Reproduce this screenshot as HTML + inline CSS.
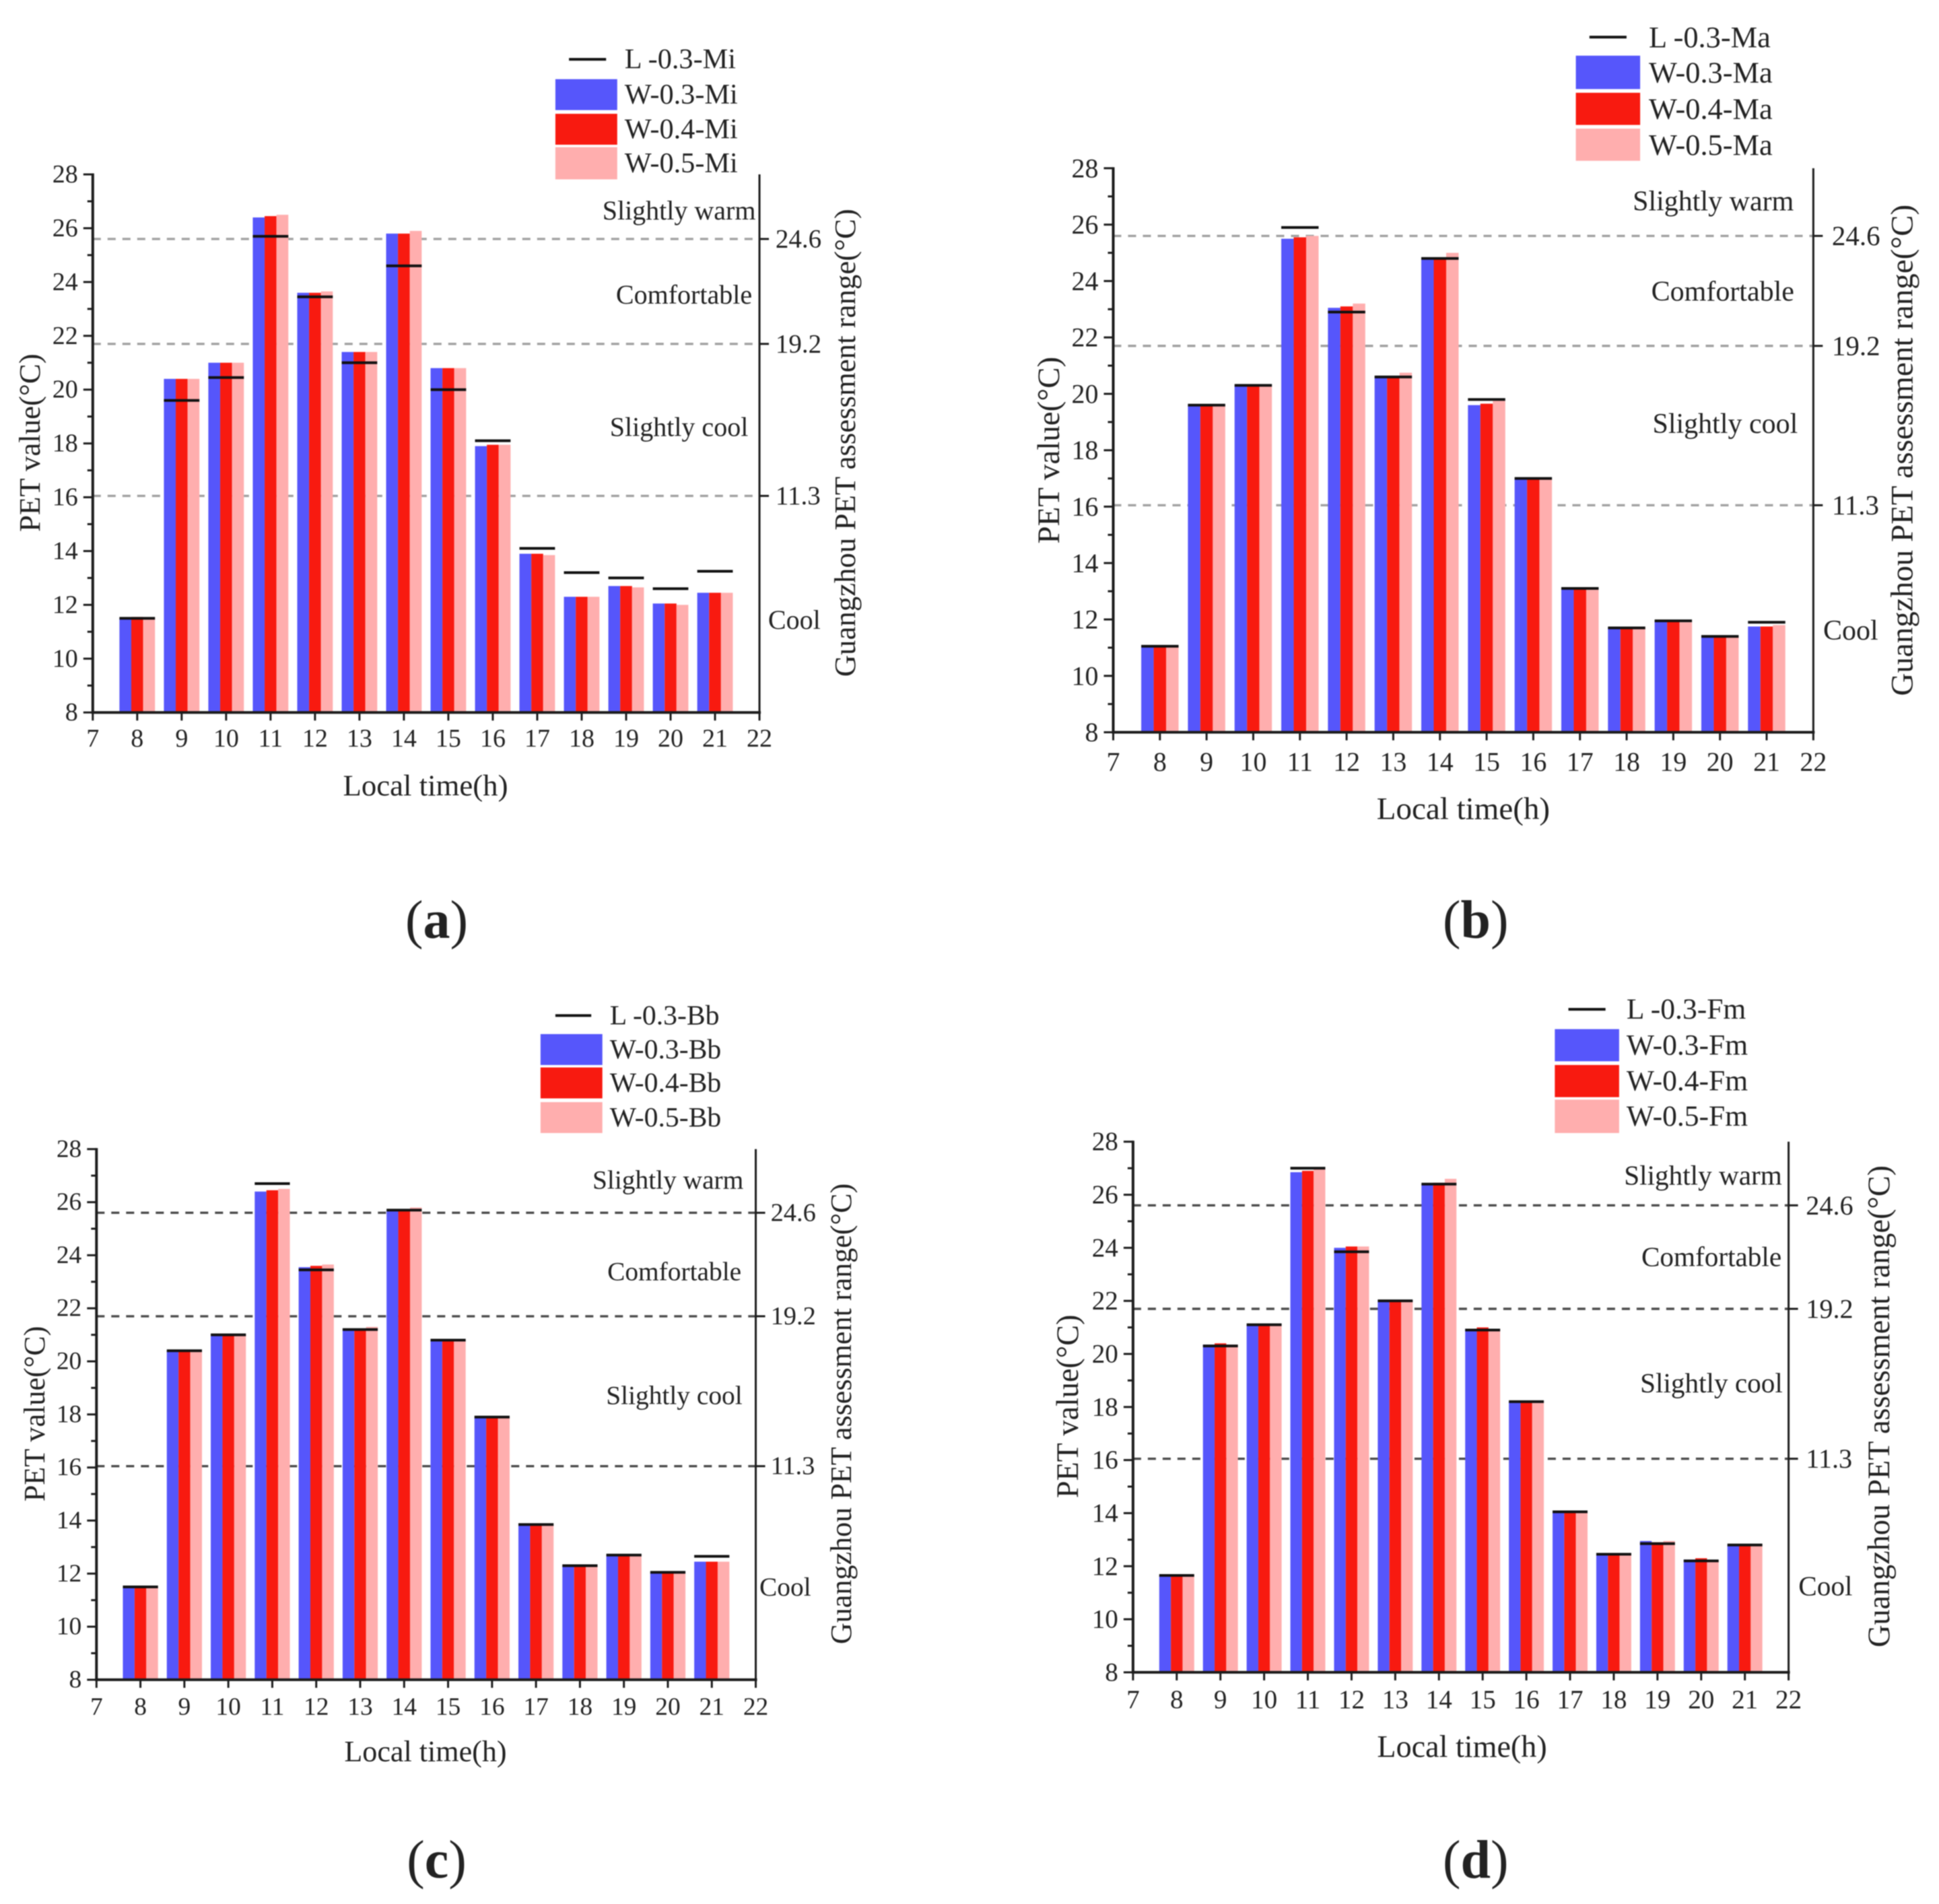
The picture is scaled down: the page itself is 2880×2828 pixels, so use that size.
<!DOCTYPE html>
<html lang="en">
<head>
<meta charset="utf-8">
<title>PET value by local time</title>
<style>
html,body{margin:0;padding:0;background:#fff;}
#figure{display:block;width:2880px;height:2828px;filter:blur(0.9px);}
text{font-family:"Liberation Serif",serif;fill:#222;}
</style>
</head>
<body>
<svg id="figure" xmlns="http://www.w3.org/2000/svg" width="2880" height="2828" viewBox="0 0 2880 2828"></svg>
<script>
// ---- data ----
const hours = [8,9,10,11,12,13,14,15,16,17,18,19,20,21];
const xTickLabels = [7,8,9,10,11,12,13,14,15,16,17,18,19,20,21,22];
const yTickLabels = [8,10,12,14,16,18,20,22,24,26,28];
const yMinorTicks = [9,11,13,15,17,19,21,23,25,27];
const thresholdValues = [25.6,21.7,16.05];
const thresholdLabels = ['24.6','19.2','11.3'];

const miW3 = [11.5,20.4,21.0,26.4,23.6,21.4,25.8,20.8,17.9,13.9,12.3,12.7,12.05,12.45];
const miW4 = [11.55,20.4,21.0,26.45,23.6,21.4,25.8,20.8,17.95,13.9,12.3,12.7,12.05,12.45];
const miW5 = [11.5,20.4,21.0,26.5,23.65,21.4,25.9,20.8,17.95,13.85,12.3,12.65,12.0,12.45];
const miL3 = [11.5,19.6,20.45,25.7,23.45,21.0,24.6,20.0,18.1,14.1,13.2,13.0,12.6,13.25];

const maW3 = [11.05,19.6,20.3,25.5,23.05,20.6,24.8,19.6,17.0,13.1,11.7,11.95,11.4,11.75];
const maW4 = [11.05,19.6,20.3,25.55,23.1,20.6,24.8,19.65,17.0,13.1,11.7,11.95,11.4,11.75];
const maW5 = [11.05,19.6,20.3,25.6,23.2,20.75,25.0,19.75,17.0,13.05,11.7,11.9,11.4,11.8];
const maL3 = [11.05,19.6,20.3,25.9,22.9,20.6,24.8,19.8,17.0,13.1,11.7,11.95,11.4,11.9];

const bbW3 = [11.5,20.4,21.0,26.4,23.55,21.2,25.7,20.8,17.9,13.85,12.3,12.7,12.05,12.45];
const bbW4 = [11.55,20.4,21.0,26.45,23.6,21.2,25.7,20.8,17.9,13.85,12.3,12.7,12.05,12.45];
const bbW5 = [11.5,20.4,21.0,26.5,23.65,21.3,25.8,20.8,17.9,13.85,12.3,12.7,12.05,12.45];
const bbL3 = [11.5,20.4,21.0,26.7,23.45,21.2,25.7,20.8,17.9,13.85,12.3,12.7,12.05,12.65];

const fmW3 = [11.65,20.35,21.1,26.85,24.0,22.0,26.4,20.95,18.2,14.05,12.5,12.95,12.25,12.8];
const fmW4 = [11.7,20.4,21.1,26.9,24.05,22.0,26.45,21.0,18.2,14.1,12.5,12.9,12.3,12.8];
const fmW5 = [11.65,20.35,21.1,27.0,24.05,22.0,26.6,20.95,18.2,14.05,12.5,12.95,12.2,12.8];
const fmL3 = [11.65,20.3,21.1,27.0,23.85,22.0,26.4,20.9,18.2,14.05,12.45,12.85,12.2,12.8];

// ---- layout (reference pixels / 1.8372) ----
const S = 1.8372;
const BLUE = '#5656fb', RED = '#f81a10', PINK = '#ffaeae';
const svg = document.getElementById('figure');
const NS = 'http://www.w3.org/2000/svg';

function make(parent, tag, attrs, txt){
  const el = document.createElementNS(NS, tag);
  for (const k in attrs) el.setAttribute(k, attrs[k]);
  if (txt !== undefined) el.textContent = txt;
  parent.appendChild(el);
  return el;
}
function hline(g, x1, x2, y, color, w){
  return make(g, 'line', {x1:x1, x2:x2, y1:y, y2:y, stroke:color, 'stroke-width':w});
}
function vline(g, x, y1, y2, color, w){
  return make(g, 'line', {x1:x, x2:x, y1:y1, y2:y2, stroke:color, 'stroke-width':w});
}
function label(g, x, y, txt, size, anchor){
  return make(g, 'text', {x:x, y:y, 'font-size':size, 'text-anchor':anchor, 'dominant-baseline':'central'}, txt);
}
function rotated(g, x, y, txt, size){
  return make(g, 'text', {x:x, y:y, 'font-size':size, 'text-anchor':'middle', 'dominant-baseline':'central', transform:'rotate(-90 '+x+' '+y+')'}, txt);
}

function drawPanel(p){
  const g = make(svg, 'g', {});
  
  

  const L = p.left*S, R = p.right*S, T = p.top*S, B = p.bottom*S;
  const F = p.fontScale;
  const xAxis = v => L + (v - 7) / 15 * (R - L);
  const yAxis = v => B - (v - 8) / 20 * (B - T);
  const axisColor = '#1c1c1c';

  // threshold dashed lines
  thresholdValues.forEach(function(v, i){
    const d = hline(g, L, R, yAxis(v), p.dashColor, 3.4);
    d.setAttribute('stroke-dasharray', '12 10');
    
    
  });

  // bars
  const groupWidth = 0.8;
  const barWidth = groupWidth / 3;
  const series = [[p.w3, BLUE, 'w03'], [p.w4, RED, 'w04'], [p.w5, PINK, 'w05']];
  series.forEach(function(s, si){
    s[0].forEach(function(v, i){
      const x0 = xAxis(hours[i] - groupWidth / 2 + si * barWidth);
      const x1 = xAxis(hours[i] - groupWidth / 2 + (si + 1) * barWidth);
      const bar = make(g, 'rect', {x:x0, y:yAxis(v), width:x1 - x0, height:yAxis(8) - yAxis(v), fill:s[1]});
      
      
    });
  });

  // L-0.3 markers
  p.l3.forEach(function(v, i){
    const m = hline(g, xAxis(hours[i] - groupWidth / 2), xAxis(hours[i] + groupWidth / 2), yAxis(v), '#111', 4);
    
    
  });

  // axes
  const leftAxis = vline(g, L, T - 1.5, B + 1.5, axisColor, 4);
  
  
  const rightAxis = vline(g, R, T, B, axisColor, 3);
  
  
  const bottomAxis = hline(g, L - 2, R + 2, B, axisColor, 4);
  
  

  yTickLabels.forEach(function(v){
    const t = hline(g, L - 14, L, yAxis(v), axisColor, 3);
    
    
    const l = label(g, p.yLabelRight*S, yAxis(v), String(v), 38*F, 'end');
    
    
  });
  yMinorTicks.forEach(function(v){
    const t = hline(g, L - 8, L, yAxis(v), axisColor, 3);
    
    
  });
  xTickLabels.forEach(function(v){
    const t = vline(g, xAxis(v), B, B + 12, axisColor, 3);
    
    
    const l = label(g, xAxis(v), p.xLabelY*S, String(v), 38*F, 'middle');
    
    
  });

  // right axis ticks and labels
  thresholdValues.forEach(function(v, i){
    const t = hline(g, R, R + 14, yAxis(v), axisColor, 3);
    
    
    const l = label(g, p.rightLabelX*S, yAxis(v), thresholdLabels[i], 39*F, 'start');
    
    
  });

  // titles
  const yTitle = rotated(g, p.yTitleX*S, p.titleY*S, 'PET value(°C)', 44.8*F);
  
  
  const rTitle = rotated(g, p.rTitleX*S, p.titleY*S, 'Guangzhou PET assessment range(°C)', 44.8*F);
  
  
  const xTitle = label(g, p.xTitleX*S, p.xTitleY*S, 'Local time(h)', 44.8*F, 'middle');
  
  

  // comfort zone annotations
  const warm = label(g, p.warm[0]*S, p.warm[1]*S, 'Slightly warm', 40*F, 'start');
  
  
  const comf = label(g, p.comf[0]*S, p.comf[1]*S, 'Comfortable', 40*F, 'start');
  
  
  const coolS = label(g, p.scool[0]*S, p.scool[1]*S, 'Slightly cool', 40*F, 'start');
  
  
  const cool = label(g, p.cool[0]*S, p.cool[1]*S, 'Cool', 40*F, 'start');
  
  

  // legend
  const leg = p.legend;
  const key = hline(g, leg.lineX[0]*S, leg.lineX[1]*S, leg.lineY*S, '#111', 4);
  
  
  const keyText = label(g, leg.lineTextX*S, leg.lineY*S, 'L -0.3-' + p.tag, 42.3*F, 'start');
  
  
  [['W-0.3-', BLUE, 'w03'], ['W-0.4-', RED, 'w04'], ['W-0.5-', PINK, 'w05']].forEach(function(e, i){
    const sw = make(g, 'rect', {x:leg.swX[0]*S, y:leg.swY[i][0]*S, width:(leg.swX[1]-leg.swX[0])*S, height:(leg.swY[i][1]-leg.swY[i][0])*S, fill:e[1]});
    
    
    const tx = label(g, leg.textX*S, (leg.swY[i][0]+leg.swY[i][1])/2*S, e[0] + p.tag, 42.3*F, 'start');
    
    
  });

  // panel caption
  const cap = make(g, 'text', {x:p.caption[0]*S, y:p.caption[1]*S, 'font-size':80, 'text-anchor':'middle', 'dominant-baseline':'central'});
  
  
  make(cap, 'tspan', {}, '(');
  make(cap, 'tspan', {'font-weight':'bold'}, p.id);
  make(cap, 'tspan', {}, ')');
}

drawPanel({id:'a', tag:'Mi', fontScale:1, w3:miW3, w4:miW4, w5:miW5, l3:miL3,
  left:75, right:614, top:141, bottom:576, dashColor:'#a0a0a0',
  yLabelRight:63, xLabelY:597, rightLabelX:627, yTitleX:24, rTitleX:683, titleY:358,
  xTitleX:344, xTitleY:635,
  warm:[487,170], comf:[498,238], scool:[493,345], cool:[621,501],
  legend:{lineX:[460,490], lineY:48, lineTextX:505, swX:[449,499], swY:[[64,89],[92,117],[119,145]], textX:505},
  caption:[353,744]});

drawPanel({id:'b', tag:'Ma', fontScale:1.05, w3:maW3, w4:maW4, w5:maW5, l3:maL3,
  left:900, right:1466, top:136, bottom:592, dashColor:'#a0a0a0',
  yLabelRight:888, xLabelY:616, rightLabelX:1481, yTitleX:848, rTitleX:1538, titleY:364,
  xTitleX:1183, xTitleY:654,
  warm:[1320,163], comf:[1335,236], scool:[1336,343], cool:[1474,510],
  legend:{lineX:[1285,1315], lineY:30, lineTextX:1333, swX:[1274,1326], swY:[[45,72],[75,101],[104,130]], textX:1333},
  caption:[1193,744]});

drawPanel({id:'c', tag:'Bb', fontScale:0.985, w3:bbW3, w4:bbW4, w5:bbW5, l3:bbL3,
  left:78, right:611, top:929, bottom:1358, dashColor:'#4a4a4a',
  yLabelRight:66, xLabelY:1380, rightLabelX:623, yTitleX:28, rTitleX:680, titleY:1143,
  xTitleX:344, xTitleY:1416,
  warm:[479,954], comf:[491,1028], scool:[490,1128], cool:[614,1283],
  legend:{lineX:[449,478], lineY:821, lineTextX:493, swX:[437,487], swY:[[836,861],[863,888],[891,916]], textX:493},
  caption:[353,1504]});

drawPanel({id:'d', tag:'Fm', fontScale:1.03, w3:fmW3, w4:fmW4, w5:fmW5, l3:fmL3,
  left:916, right:1446, top:923, bottom:1352, dashColor:'#4a4a4a',
  yLabelRight:904, xLabelY:1374, rightLabelX:1460, yTitleX:863, rTitleX:1519, titleY:1137,
  xTitleX:1182, xTitleY:1412,
  warm:[1313,950], comf:[1327,1016], scool:[1326,1118], cool:[1454,1282],
  legend:{lineX:[1268,1298], lineY:816, lineTextX:1315, swX:[1257,1309], swY:[[832,858],[861,887],[889,916]], textX:1315},
  caption:[1193,1504]});
</script>
</body>
</html>
